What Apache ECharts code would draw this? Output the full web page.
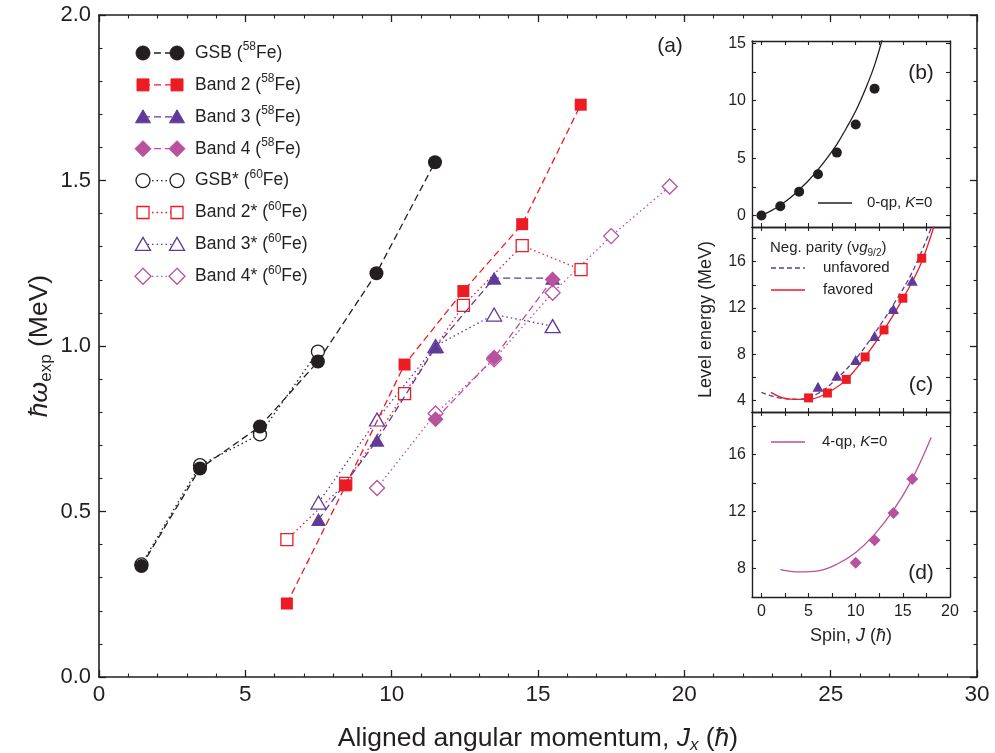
<!DOCTYPE html>
<html>
<head>
<meta charset="utf-8">
<script src="https://cdn.jsdelivr.net/npm/echarts@6/dist/echarts.min.js"></script>
<style>
  html, body { margin: 0; padding: 0; background: #fff; }
  #chart { width: 995px; height: 753px; }
</style>
</head>
<body>
<div id="chart"></div>
<script>
// ---------- Panel (a): rotational frequency vs aligned angular momentum ----------
const gsbJx = [1.45, 3.45, 5.5, 7.48, 9.48, 11.48];
const gsbOmega = [0.335, 0.63, 0.757, 0.953, 1.22, 1.555];
const band2Jx = [6.42, 8.43, 10.44, 12.45, 14.46, 16.46];
const band2Omega = [0.222, 0.579, 0.944, 1.166, 1.368, 1.729];
const band3Jx = [7.5, 9.5, 11.5, 13.5, 15.5];
const band3Omega = [0.476, 0.715, 0.997, 1.205, 1.205];
const band4Jx = [11.5, 13.5, 15.5];
const band4Omega = [0.779, 0.965, 1.201];
const gsbStarJx = [1.45, 3.45, 5.5, 7.48];
const gsbStarOmega = [0.34, 0.64, 0.733, 0.983];
const band2StarJx = [6.42, 8.43, 10.44, 12.45, 14.46, 16.47];
const band2StarOmega = [0.415, 0.585, 0.856, 1.123, 1.303, 1.231];
const band3StarJx = [7.5, 9.5, 11.5, 13.5, 15.5];
const band3StarOmega = [0.527, 0.778, 1.0, 1.095, 1.06];
const band4StarJx = [9.5, 11.5, 13.5, 15.5, 17.5, 19.5];
const band4StarOmega = [0.571, 0.796, 0.96, 1.161, 1.332, 1.482];

// ---------- Panel (b): ground-state band levels, 0-qp K=0 ----------
const gsbSpin = [0, 2, 4, 6, 8, 10, 12];
const gsbLevel = [0, 0.81, 2.08, 3.6, 5.48, 7.93, 11.05];
const qp0Spin = [0, 1, 2, 3, 4, 5, 6, 7, 8, 9, 10, 11, 12, 13];
const qp0Level = [0, 0.4, 0.9, 1.5, 2.25, 3.05, 4.0, 5.05, 6.2, 7.6, 9.1, 10.95, 13.1, 15.9];

// ---------- Panel (c): negative parity (nu g9/2) ----------
const favSpin = [5, 7, 9, 11, 13, 15, 17];
const favLevel = [4.22, 4.64, 5.82, 7.76, 10.1, 12.84, 16.3];
const unfSpin = [6, 8, 10, 12, 14, 16];
const unfLevel = [5.18, 6.13, 7.5, 9.58, 11.9, 14.35];
const favCurveSpin = [1, 3, 5, 7, 9, 11, 13, 15, 17, 19];
const favCurveLevel = [4.7, 4.12, 4.1, 4.66, 5.8, 7.77, 10.1, 12.8, 16.0, 21.0];
const unfCurveSpin = [0, 2, 4, 6, 8, 10, 12, 14, 16, 18];
const unfCurveLevel = [4.7, 4.2, 4.1, 4.6, 5.9, 7.6, 9.8, 12.3, 15.1, 18.9];

// ---------- Panel (d): band 4, 4-qp K=0 ----------
const b4Spin = [10, 12, 14, 16];
const b4Level = [8.4, 9.98, 11.9, 14.3];
const qp4Spin = [2, 4, 6, 8, 10, 12, 14, 16, 18];
const qp4Level = [7.93, 7.76, 7.83, 8.3, 9.13, 10.4, 12.1, 14.3, 17.2];

// ---------- Tick positions ----------
const spinTicks = [0, 2.5, 5, 7.5, 10, 12.5, 15, 17.5, 20];
const spinLabels = [0, 5, 10, 15, 20];
const bTicks = [0, 2.5, 5, 7.5, 10, 12.5, 15];
const bLabels = [0, 5, 10, 15];
const cTicks = [4, 6, 8, 10, 12, 14, 16, 18];
const cLabels = [4, 8, 12, 16];
const dTicks = [8, 10, 12, 14, 16, 18];
const dLabels = [8, 12, 16];

// ---------- Styles ----------
const ink = '#231f20';
const red = '#ed1c24';
const purple = '#5f3b97';
const magenta = '#b8519e';
const font = '"Liberation Sans", Arial, Helvetica, sans-serif';
const dashed = [7, 4];
const dotted = [1.5, 3];

const pairs = (xs, ys) => xs.map((x, i) => [x, ys[i]]);

const bands = [
  { label: 'GSB', nuc: '58', xs: gsbJx, ys: gsbOmega, color: ink, symbol: 'circle', size: 14, filled: true, dash: dashed },
  { label: 'Band 2', nuc: '58', xs: band2Jx, ys: band2Omega, color: red, symbol: 'rect', size: 12, filled: true, dash: dashed },
  { label: 'Band 3', nuc: '58', xs: band3Jx, ys: band3Omega, color: purple, symbol: 'triangle', size: [15, 13], filled: true, dash: dashed },
  { label: 'Band 4', nuc: '58', xs: band4Jx, ys: band4Omega, color: magenta, symbol: 'diamond', size: 16, filled: true, dash: dashed },
  { label: 'GSB*', nuc: '60', xs: gsbStarJx, ys: gsbStarOmega, color: ink, symbol: 'circle', size: 13, filled: false, dash: dotted },
  { label: 'Band 2*', nuc: '60', xs: band2StarJx, ys: band2StarOmega, color: red, symbol: 'rect', size: 12, filled: false, dash: dotted },
  { label: 'Band 3*', nuc: '60', xs: band3StarJx, ys: band3StarOmega, color: purple, symbol: 'triangle', size: [15, 13], filled: false, dash: dotted },
  { label: 'Band 4*', nuc: '60', xs: band4StarJx, ys: band4StarOmega, color: magenta, symbol: 'diamond', size: 15, filled: false, dash: dotted }
];

function bandSeries(b) {
  return {
    type: 'line', name: b.label, xAxisIndex: 0, yAxisIndex: 0,
    data: pairs(b.xs, b.ys),
    symbol: b.symbol, symbolSize: b.size, showAllSymbol: true,
    z: b.filled ? 4 : 3,
    lineStyle: { color: b.color, width: 1.3, type: b.dash },
    itemStyle: b.filled ? { color: b.color, opacity: 1 } : { color: '#fff', borderColor: b.color, borderWidth: 1.3, opacity: 1 },
    emphasis: { disabled: true }
  };
}

// ---------- Axes ----------
function mainX(position, labels) {
  return {
    type: 'value', gridIndex: 0, position, min: 0, max: 30, interval: 5,
    axisLine: { show: true, onZero: false, lineStyle: { color: ink, width: 1.6 } },
    axisTick: { show: true, inside: true, length: 7, lineStyle: { color: ink, width: 1.3 } },
    minorTick: { show: true, splitNumber: 5, length: 3.5, lineStyle: { color: ink, width: 1.1 } },
    splitLine: { show: false },
    axisLabel: { show: labels, color: ink, fontSize: 22.5, fontFamily: font, margin: 6 }
  };
}
function mainY(position, labels) {
  return {
    type: 'value', gridIndex: 0, position, min: 0, max: 2, interval: 0.5,
    axisLine: { show: true, onZero: false, lineStyle: { color: ink, width: 1.6 } },
    axisTick: { show: true, inside: true, length: 7, lineStyle: { color: ink, width: 1.3 } },
    minorTick: { show: true, splitNumber: 5, length: 3.5, lineStyle: { color: ink, width: 1.1 } },
    splitLine: { show: false },
    axisLabel: { show: labels, color: ink, fontSize: 22, fontFamily: font, margin: 8, formatter: v => v.toFixed(1) }
  };
}
function insetAxis(kind, gridIndex, position, min, max, ticks, labels) {
  return {
    type: 'value', gridIndex, position, min, max,
    axisLine: { show: true, onZero: false, lineStyle: { color: ink, width: 1.4 } },
    axisTick: { show: true, inside: true, length: 4, customValues: ticks, lineStyle: { color: ink, width: 1.1 } },
    splitLine: { show: false },
    axisLabel: labels
      ? { show: true, customValues: labels, color: ink, fontSize: 16, fontFamily: font, margin: kind === 'x' ? 7 : 6 }
      : { show: false }
  };
}

const xAxes = [
  Object.assign(mainX('bottom', true), {
    name: '{t|Aligned angular momentum, }{i|J}{s|x}{t| (}{i|ħ}{t|)}',
    nameLocation: 'middle', nameGap: 46,
    nameTextStyle: {
      color: ink, fontFamily: font, fontSize: 26.5,
      rich: {
        t: { fontSize: 26.5, fontFamily: font, color: ink },
        i: { fontSize: 26.5, fontFamily: font, color: ink, fontStyle: 'italic' },
        s: { fontSize: 17, fontFamily: font, color: ink, fontStyle: 'italic', padding: [14, 0, 0, 0] }
      }
    }
  }),
  mainX('top', false),
  insetAxis('x', 1, 'bottom', -1, 20, spinTicks, null),
  insetAxis('x', 1, 'top', -1, 20, spinTicks, null),
  insetAxis('x', 2, 'bottom', -1, 20, spinTicks, null),
  insetAxis('x', 2, 'top', -1, 20, spinTicks, null),
  Object.assign(insetAxis('x', 3, 'bottom', -1, 20, spinTicks, spinLabels), {
    name: '{t|Spin, }{i|J}{t| (}{i|ħ}{t|)}',
    nameLocation: 'middle', nameGap: 30,
    nameTextStyle: {
      color: ink, fontFamily: font, fontSize: 18,
      rich: {
        t: { fontSize: 18, fontFamily: font, color: ink },
        i: { fontSize: 18, fontFamily: font, color: ink, fontStyle: 'italic' }
      }
    }
  }),
  insetAxis('x', 3, 'top', -1, 20, spinTicks, null)
];

const yAxes = [
  Object.assign(mainY('left', true), {
    name: '{i|ħω}{s|exp}{t| (MeV)}',
    nameLocation: 'middle', nameGap: 44, nameRotate: 90, nameMoveOverlap: false,
    nameTextStyle: {
      color: ink, fontFamily: font, fontSize: 26.5,
      rich: {
        t: { fontSize: 26.5, fontFamily: font, color: ink },
        i: { fontSize: 26.5, fontFamily: font, color: ink, fontStyle: 'italic' },
        s: { fontSize: 17, fontFamily: font, color: ink, padding: [14, 0, 0, 0] }
      }
    }
  }),
  mainY('right', false),
  insetAxis('y', 1, 'left', -1, 15.2, bTicks, bLabels),
  insetAxis('y', 1, 'right', -1, 15.2, bTicks, null),
  Object.assign(insetAxis('y', 2, 'left', 3, 19, cTicks, cLabels), {
    name: 'Level energy (MeV)', nameLocation: 'middle', nameGap: 37, nameRotate: 90,
    nameTextStyle: { color: ink, fontFamily: font, fontSize: 18 }
  }),
  insetAxis('y', 2, 'right', 3, 19, cTicks, null),
  insetAxis('y', 3, 'left', 6, 19, dTicks, dLabels),
  insetAxis('y', 3, 'right', 6, 19, dTicks, null)
];

// ---------- Series ----------
const series = [];
// open (60Fe) symbols below the filled (58Fe) ones
bands.slice(4).forEach(b => series.push(bandSeries(b)));
bands.slice(0, 4).forEach(b => series.push(bandSeries(b)));

const curve = (name, xi, xs, ys, color, type) => ({
  type: 'line', name, xAxisIndex: xi, yAxisIndex: xi, data: pairs(xs, ys),
  symbol: 'none', smooth: 0.4, clip: true, z: 3,
  lineStyle: { color, width: 1.3, type }, emphasis: { disabled: true }
});
const dots = (name, xi, xs, ys, color, symbol, size) => ({
  type: 'scatter', name, xAxisIndex: xi, yAxisIndex: xi, data: pairs(xs, ys),
  symbol, symbolSize: size, z: 4, itemStyle: { color, opacity: 1 }, emphasis: { disabled: true }
});

series.push(curve('0-qp, K=0', 2, qp0Spin, qp0Level, ink, 'solid'));
series.push(dots('GSB levels', 2, gsbSpin, gsbLevel, ink, 'circle', 10));
series.push(curve('unfavored', 4, unfCurveSpin, unfCurveLevel, purple, [5, 3]));
series.push(curve('favored', 4, favCurveSpin, favCurveLevel, red, 'solid'));
series.push(dots('Band 3 levels', 4, unfSpin, unfLevel, purple, 'triangle', [11, 10]));
series.push(dots('Band 2 levels', 4, favSpin, favLevel, red, 'rect', 9));
series.push(curve('4-qp, K=0', 6, qp4Spin, qp4Level, magenta, 'solid'));
series.push(dots('Band 4 levels', 6, b4Spin, b4Level, magenta, 'diamond', 12));

// ---------- Legend drawn as symbol–line–symbol rows ----------
function marker(b, cx, cy) {
  const st = b.filled
    ? { fill: b.color, stroke: b.color, lineWidth: 1 }
    : { fill: '#fff', stroke: b.color, lineWidth: 1.3 };
  if (b.symbol === 'circle') return { type: 'circle', shape: { cx, cy, r: 7 }, style: st };
  if (b.symbol === 'rect') return { type: 'rect', shape: { x: cx - 6, y: cy - 6, width: 12, height: 12 }, style: st };
  if (b.symbol === 'triangle') return { type: 'polygon', shape: { points: [[cx, cy - 7], [cx + 7.5, cy + 6], [cx - 7.5, cy + 6]] }, style: st };
  return { type: 'polygon', shape: { points: [[cx, cy - 8], [cx + 8, cy], [cx, cy + 8], [cx - 8, cy]] }, style: st };
}
const legendRich = {
  n: { fontSize: 17.5, fontFamily: font, fill: ink },
  p: { fontSize: 12, fontFamily: font, fill: ink, padding: [0, 0, 12, 0] }
};
const graphics = [];
bands.forEach((b, i) => {
  const y = 53 + i * 31.9;
  graphics.push({ type: 'line', shape: { x1: 143, y1: y, x2: 177, y2: y }, style: { stroke: b.color, lineWidth: 1.3, lineDash: b.dash }, z: 10 });
  graphics.push(Object.assign(marker(b, 143, y), { z: 11 }));
  graphics.push(Object.assign(marker(b, 177, y), { z: 11 }));
  graphics.push({
    type: 'text', x: 195, y, z: 11,
    style: { text: `{n|${b.label} (}{p|${b.nuc}}{n|Fe)}`, rich: legendRich, verticalAlign: 'middle', textVerticalAlign: 'middle', fill: ink }
  });
});

// panel tags
[['(a)', 670, 46], ['(b)', 921, 73], ['(c)', 921, 385], ['(d)', 921, 573]].forEach(([t, x, y]) => {
  graphics.push({ type: 'text', x, y, z: 11, style: { text: t, fill: ink, fontSize: 21, fontFamily: font, align: 'center', textAlign: 'center', verticalAlign: 'middle', textVerticalAlign: 'middle' } });
});

// inset legends
const insetRich = {
  n: { fontSize: 15, fontFamily: font, fill: ink },
  i: { fontSize: 15, fontFamily: font, fill: ink, fontStyle: 'italic' },
  s: { fontSize: 10, fontFamily: font, fill: ink, padding: [10, 0, 0, 0] }
};
const insetKeys = [
  { x1: 818, x2: 852, y: 203, tx: 867, color: ink, dash: null, text: '{n|0-qp, }{i|K}{n|=0}' },
  { x1: 771, x2: 805, y: 268, tx: 823, color: purple, dash: [5, 3], text: '{n|unfavored}' },
  { x1: 771, x2: 805, y: 290, tx: 823, color: red, dash: null, text: '{n|favored}' },
  { x1: 771, x2: 805, y: 442, tx: 822, color: magenta, dash: null, text: '{n|4-qp, }{i|K}{n|=0}' }
];
insetKeys.forEach(k => {
  graphics.push({ type: 'line', shape: { x1: k.x1, y1: k.y, x2: k.x2, y2: k.y }, style: { stroke: k.color, lineWidth: 1.3, lineDash: k.dash }, z: 10 });
  graphics.push({ type: 'text', x: k.tx, y: k.y, z: 11, style: { text: k.text, rich: insetRich, verticalAlign: 'middle', textVerticalAlign: 'middle', fill: ink } });
});
graphics.push({ type: 'text', x: 770, y: 248, z: 11, style: { text: '{n|Neg. parity (ν}{i|g}{s|9/2}{n|)}', rich: insetRich, verticalAlign: 'middle', textVerticalAlign: 'middle', fill: ink } });

const chart = echarts.init(document.getElementById('chart'), null, { renderer: 'canvas' });
chart.setOption({
  backgroundColor: '#fff',
  animation: false,
  textStyle: { fontFamily: font },
  grid: [
    { left: 99, top: 15, width: 878, height: 662, show: false, outerBoundsMode: 'none' },
    { left: 752, top: 41, width: 198, height: 186, show: true, backgroundColor: '#fff', borderWidth: 0, outerBoundsMode: 'none' },
    { left: 752, top: 227, width: 198, height: 185, show: true, backgroundColor: '#fff', borderWidth: 0, outerBoundsMode: 'none' },
    { left: 752, top: 412, width: 198, height: 185, show: true, backgroundColor: '#fff', borderWidth: 0, outerBoundsMode: 'none' }
  ],
  xAxis: xAxes,
  yAxis: yAxes,
  series,
  graphic: { elements: graphics }
});
</script>
</body>
</html>
